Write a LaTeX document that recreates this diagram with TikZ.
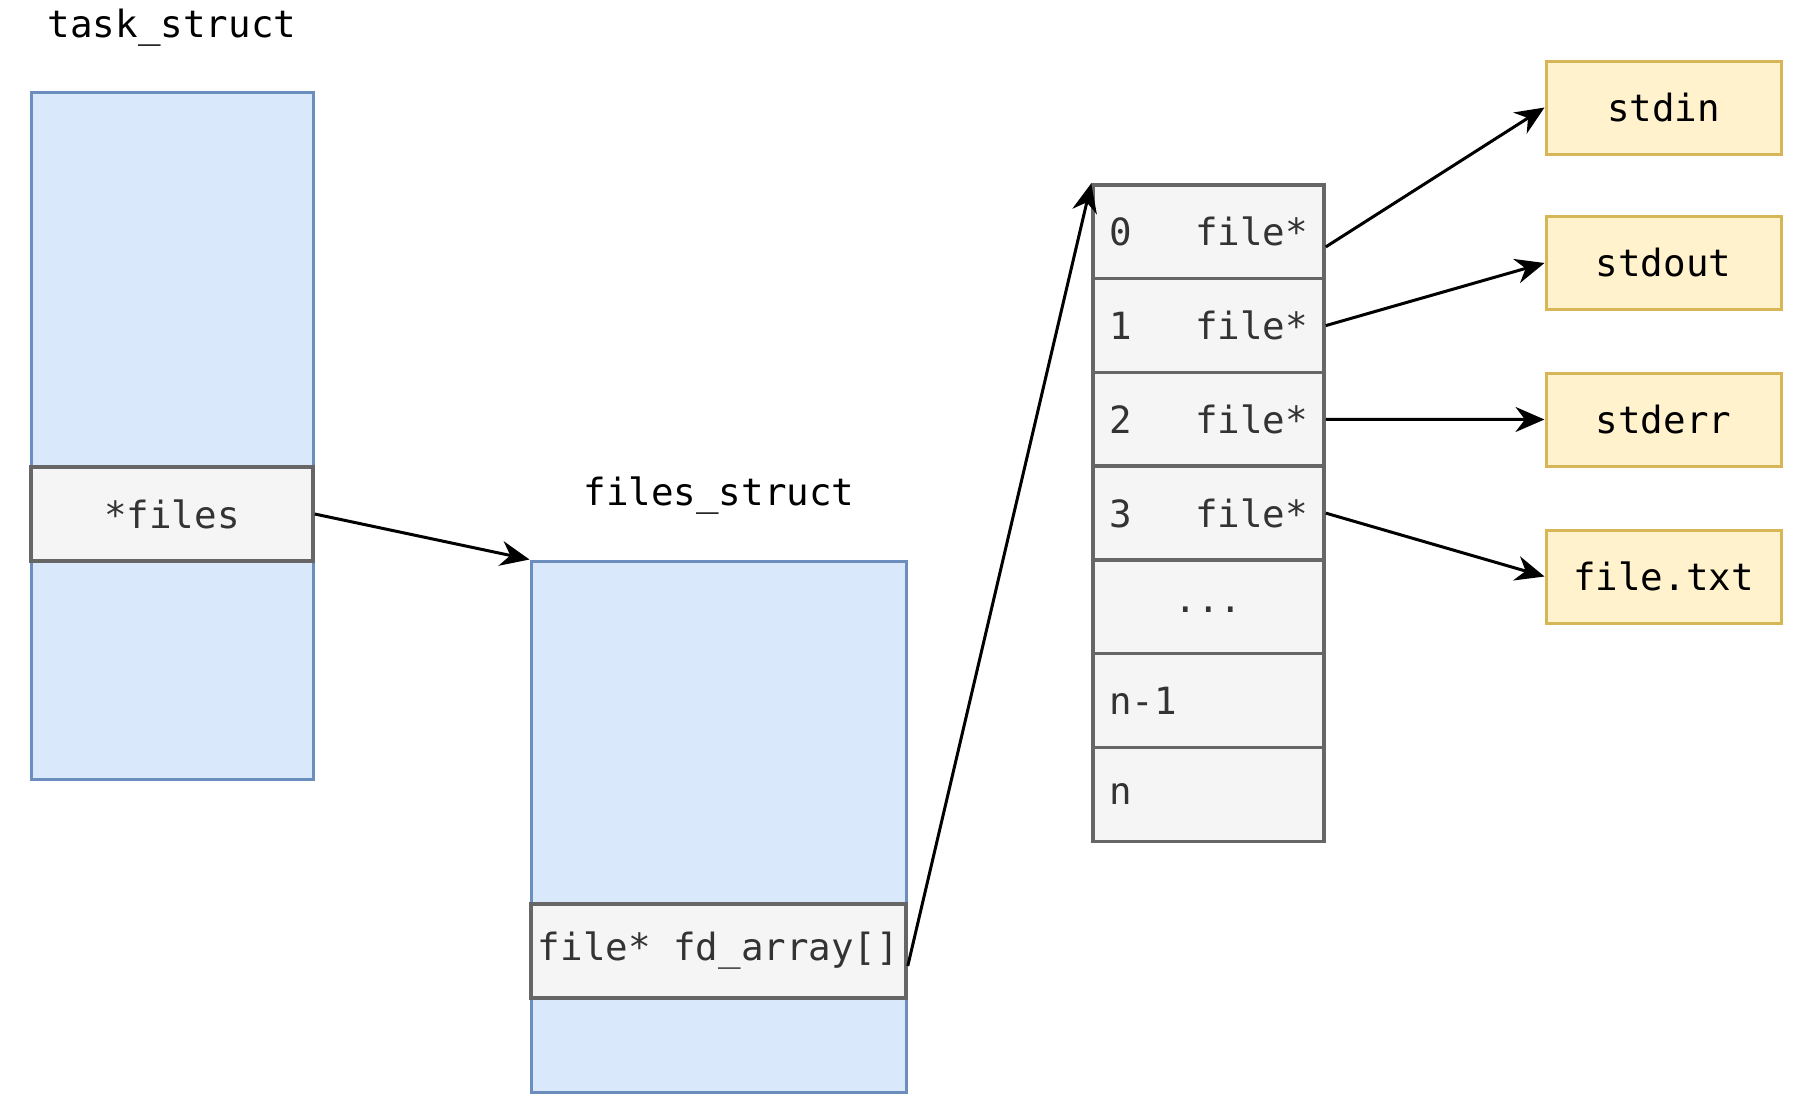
\documentclass[tikz,border=0pt]{standalone}
\usepackage{fontspec}
\newfontfamily\monof{DejaVu Sans Mono}
\usetikzlibrary{arrows.meta,calc}
\definecolor{bluefill}{HTML}{DAE8FC}
\definecolor{bluedraw}{HTML}{6C8EBF}
\definecolor{grayfill}{HTML}{F5F5F5}
\definecolor{graydraw}{HTML}{666666}
\definecolor{yelfill}{HTML}{FFF2CC}
\definecolor{yeldraw}{HTML}{D6B656}
\definecolor{txtgray}{HTML}{333333}
\tikzset{
  bluebox/.style={draw=bluedraw, fill=bluefill, line width=3pt, rectangle, inner sep=0pt},
  graybox/.style={draw=graydraw, fill=grayfill, line width=3.5pt, rectangle, inner sep=0pt, text=txtgray},
  rowbox/.style={graybox, minimum height=93.75pt, text width=199pt, inner xsep=16pt, align=left},
  yelbox/.style={draw=yeldraw, fill=yelfill, line width=3pt, rectangle, inner sep=0pt, minimum width=235pt, minimum height=93pt, text=black},
  conn/.style={line width=3pt, -{Stealth[length=29pt,width=25pt]}},
  title/.style={text=black}
}
\begin{document}
\begin{tikzpicture}[x=1pt,y=-1pt, font=\monof\fontsize{37.5}{45}\selectfont]
\useasboundingbox (0,0) rectangle (1802,1112);
% titles
\node[title] (tasklbl) at (172,28) {task\_struct};
\node[title] (fileslbl) at (719,496) {files\_struct};
% task_struct
\node[bluebox, minimum width=282pt, minimum height=687pt] (task) at (172,435.5) {};
\node[graybox, minimum width=282pt, minimum height=94pt] (filesptr) at (172,514) {*files};
% files_struct
\node[bluebox, minimum width=375pt, minimum height=531pt] (fs) at (718.5,826.5) {};
\node[graybox, minimum width=375pt, minimum height=94pt] (fd) at (718.5,951) {file* fd\_array[]};
% array
\node[rowbox] (r0) at (1208.5,231.9) {0\hfill file*};
\node[rowbox] (r1) at (1208.5,325.6) {1\hfill file*};
\node[rowbox] (r2) at (1208.5,419.4) {2\hfill file*};
\node[rowbox] (r3) at (1208.5,513.1) {3\hfill file*};
\node[rowbox, align=center, text height=0pt, text depth=0pt] (r4) at (1208.5,606.9) {\raisebox{-6pt}{...}};
\node[rowbox] (r5) at (1208.5,700.6) {n-1};
\node[rowbox] (r6) at (1208.5,794.4) {n};
% targets
\node[yelbox] (stdin) at (1663.5,107.5) {stdin};
\node[yelbox] (stdout) at (1663.5,263) {stdout};
\node[yelbox] (stderr) at (1663.5,419.5) {stderr};
\node[yelbox] (filetxt) at (1663.5,576.5) {file.txt};
% connectors
\draw[conn] (filesptr.east) -- (fs.north west);
\draw[conn] ([yshift=-15pt]fd.east) -- (r0.north west);
\draw[conn] ([yshift=-15pt]r0.east) -- (stdin.west);
\draw[conn] (r1.east) -- (stdout.west);
\draw[conn] (r2.east) -- (stderr.west);
\draw[conn] (r3.east) -- (filetxt.west);
\end{tikzpicture}
\end{document}
